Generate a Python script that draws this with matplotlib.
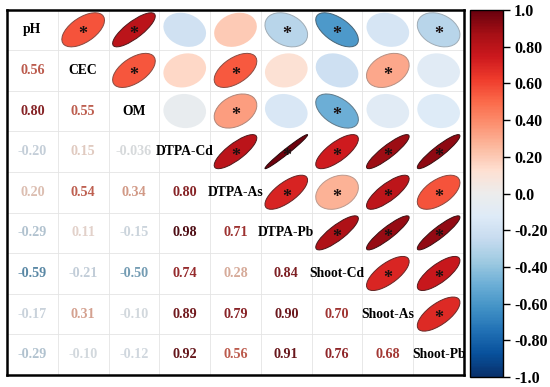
import numpy as np
import matplotlib
matplotlib.use('Agg')
import matplotlib.pyplot as plt
from matplotlib.patches import Ellipse
from matplotlib.colors import Normalize, LinearSegmentedColormap, to_rgb
from matplotlib.cm import ScalarMappable
import matplotlib.transforms as mtransforms

plt.rcParams['font.family'] = ['Liberation Serif', 'DejaVu Serif']
plt.rcParams['font.weight'] = 'bold'

variables = ["pH", "CEC", "OM", "DTPA-Cd", "DTPA-As", "DTPA-Pb",
             "Shoot-Cd", "Shoot-As", "Shoot-Pb"]

# lower-triangle correlations, row by row (row variable vs earlier variables)
r_CEC = [0.56]
r_OM = [0.80, 0.55]
r_DTPA_Cd = [-0.20, 0.15, -0.036]
r_DTPA_As = [0.20, 0.54, 0.34, 0.80]
r_DTPA_Pb = [-0.29, 0.11, -0.15, 0.98, 0.71]
r_Shoot_Cd = [-0.59, -0.21, -0.50, 0.74, 0.28, 0.84]
r_Shoot_As = [-0.17, 0.31, -0.10, 0.89, 0.79, 0.90, 0.70]
r_Shoot_Pb = [-0.29, -0.10, -0.12, 0.92, 0.56, 0.91, 0.76, 0.68]

# significance flags (upper triangle), row i vs columns i+1..8
sig_pH = [1, 1, 0, 0, 1, 1, 0, 1]
sig_CEC = [1, 0, 1, 0, 0, 1, 0]
sig_OM = [0, 1, 0, 1, 0, 0]
sig_DTPA_Cd = [1, 1, 1, 1, 1]
sig_DTPA_As = [1, 1, 1, 1]
sig_DTPA_Pb = [1, 1, 1]
sig_Shoot_Cd = [1, 1]
sig_Shoot_As = [1]

cbar_ticks = [1.0, 0.8, 0.6, 0.4, 0.2, 0.0, -0.2, -0.4, -0.6, -0.8, -1.0]
cbar_labels = ["1.0", "0.80", "0.60", "0.40", "0.20", "0.0", "-0.20",
               "-0.40", "-0.60", "-0.80", "-1.0"]

lower_rows = [[], r_CEC, r_OM, r_DTPA_Cd, r_DTPA_As, r_DTPA_Pb,
              r_Shoot_Cd, r_Shoot_As, r_Shoot_Pb]
sig_rows = [sig_pH, sig_CEC, sig_OM, sig_DTPA_Cd, sig_DTPA_As,
            sig_DTPA_Pb, sig_Shoot_Cd, sig_Shoot_As, []]

n = len(variables)
M = np.eye(n)
S = np.zeros((n, n), dtype=int)
for i, row in enumerate(lower_rows):
    for j, v in enumerate(row):
        M[i, j] = v
        M[j, i] = v
for i, row in enumerate(sig_rows):
    for k, s in enumerate(row):
        S[i, i + 1 + k] = s

cmap = LinearSegmentedColormap.from_list("rb", [
    "#08306b", "#08519c", "#2171b5", "#4292c6", "#6baed6", "#9ecae1",
    "#c6dbef", "#deebf7", "#ececec",
    "#fee0d2", "#fcbba1", "#fc9272", "#fb6a4a", "#ef3b2c", "#cb181d",
    "#a50f15", "#67000d"])
norm = Normalize(-1, 1)


def desat(c, keep=0.6, dark=1.0):
    r, g, b = to_rgb(c)
    l = 0.299 * r + 0.587 * g + 0.114 * b
    return tuple(min(1, max(0, (l + (x - l) * keep) * dark)) for x in (r, g, b))


fig = plt.figure(figsize=(5.5, 3.87), dpi=100)
ax = fig.add_axes([7 / 550, 1 - 375 / 387, 457 / 550, 365.5 / 387])
ax.set_xlim(0, n)
ax.set_ylim(n, 0)
ax.set_xticks([])
ax.set_yticks([])
for k in range(1, n):
    ax.axhline(k, color="#e4e4e4", lw=0.6, zorder=0)
    ax.axvline(k, color="#e4e4e4", lw=0.6, zorder=0)
for sp in ax.spines.values():
    sp.set_linewidth(1.8)
    sp.set_color("black")

R = 0.42
star_off = mtransforms.ScaledTranslation(0, -3.5 / 72, fig.dpi_scale_trans)
for i in range(n):
    for j in range(n):
        v = M[i, j]
        cx, cy = j + 0.5, i + 0.5
        if i == j:
            ax.text(cx, cy, variables[i], ha="center", va="center",
                    fontsize=9.8, fontweight="bold", color="black")
        elif i > j:
            lab = f"{v:.2f}" if round(v, 2) == v else f"{v:.3f}"
            ax.text(cx, cy, lab, ha="center", va="center", fontsize=10.2,
                    fontweight="bold", color=desat(cmap(norm(v)), 0.65, 0.92))
        else:
            fc = cmap(norm(v))
            ang = -45 if v >= 0 else 45
            ec = desat(fc, 0.55, 0.5 + 0.45 * (1 - abs(v)))
            e = Ellipse((cx, cy), width=2 * R * np.sqrt(1 + abs(v)),
                        height=2 * R * np.sqrt(1 - abs(v)), angle=ang,
                        facecolor=fc, edgecolor=ec,
                        lw=0.7 if abs(v) > 0.25 else 0.0, zorder=2)
            ax.add_patch(e)
            if S[i, j]:
                ax.text(cx, cy, "*", ha="center", va="center", fontsize=13,
                        fontweight="bold", color="#1a1010", zorder=3,
                        transform=ax.transData + star_off)

cax = fig.add_axes([470 / 550, 1 - 377 / 387, 33 / 550, 367 / 387])
sm = ScalarMappable(norm=norm, cmap=cmap)
cb = fig.colorbar(sm, cax=cax)
cb.set_ticks(cbar_ticks)
cb.set_ticklabels(cbar_labels)
cax.tick_params(labelsize=11.5, length=5, width=1, pad=3)
for t in cax.get_yticklabels():
    t.set_fontweight("bold")
cb.outline.set_linewidth(1.0)

fig.savefig("out.png", dpi=100)
